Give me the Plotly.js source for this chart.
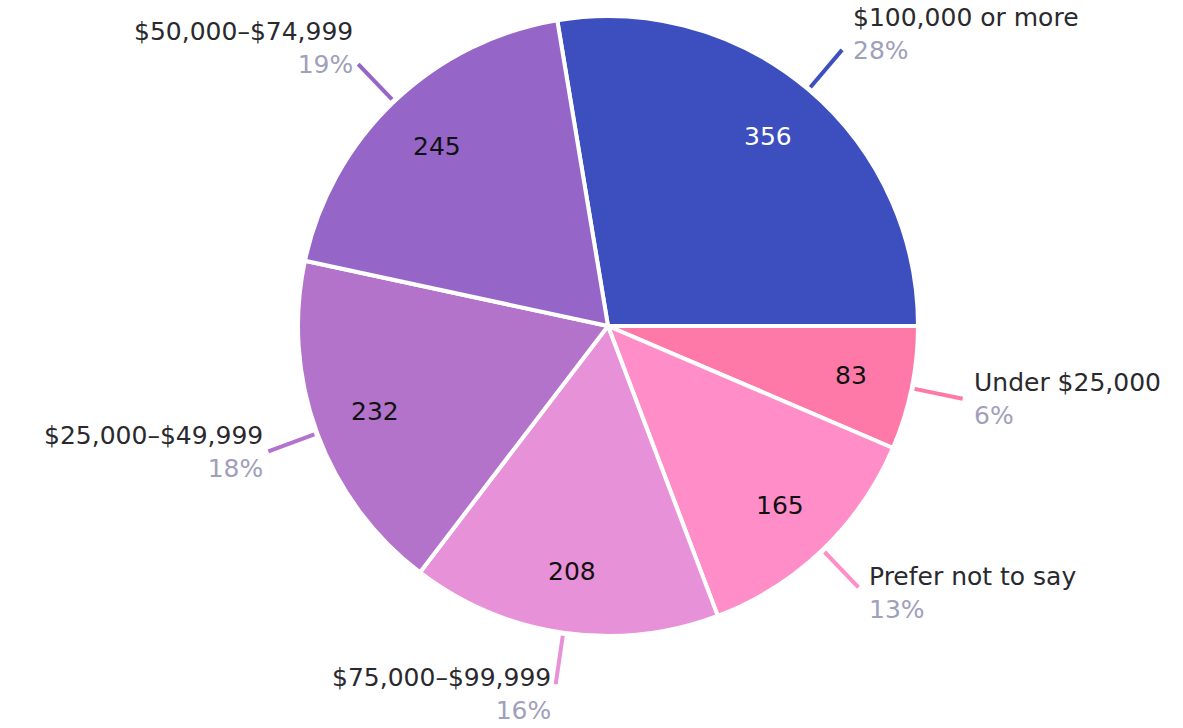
<!DOCTYPE html>
<html><head><meta charset="utf-8">
<script src="https://cdn.plot.ly/plotly-3.0.1.min.js"></script>
<style>html,body{margin:0;padding:0;background:#fff;}#chart{width:1183px;height:728px;}</style>
</head><body><div id="chart"></div>
<script>
const categories = ["$100,000 or more","Under $25,000","Prefer not to say","$75,000–$99,999","$25,000–$49,999","$50,000–$74,999"];
const counts = [356, 83, 165, 208, 232, 245];
const percentLabels = ["28%","6%","13%","16%","18%","19%"];
const colors = ["#3D4FBE","#FF79A8","#FF8DC8","#E792D8","#B373CB","#9566C8"];
const insideTextColors = ["#ffffff","#111111","#111111","#111111","#111111","#111111"];

const W = 1183, H = 728;
const mt = 16, mb = 92;
const cx = 608, R = 310, cy = mt + R;
const plotH = H - mt - mb;
const total = counts.reduce((a,b)=>a+b,0);
const firstDeg = counts[0]/total*360;
const rotation = 90 - firstDeg;
const FONT = '"DejaVu Sans", Verdana, sans-serif';

const toPX = px => px / W;
const toPY = py => 1 - (py - mt) / plotH;

const shapes = [], annotations = [];
let acc = rotation;
counts.forEach((v,i)=>{
  const span = v/total*360;
  const mid = (acc + span/2) * Math.PI/180;
  acc += span;
  const sx = Math.sin(mid), sy = -Math.cos(mid);
  // value inside slice
  const ri = 0.8*R;
  annotations.push({xref:'paper', yref:'paper', x:toPX(cx+sx*ri), y:toPY(cy+sy*ri),
    xanchor:'center', yanchor:'middle', showarrow:false, text:String(v),
    font:{family:FONT, size:25, color:insideTextColors[i]}});
  // leader line
  const r0 = R + 3, r1 = R + 52;
  const x0 = cx + sx*r0, y0 = cy + sy*r0, x1 = cx + sx*r1, y1 = cy + sy*r1;
  shapes.push({type:'line', xref:'paper', yref:'paper', x0:toPX(x0), y0:toPY(y0), x1:toPX(x1), y1:toPY(y1),
    line:{color:colors[i], width:4}});
  const right = sx > 0;
  const upper = sy < -0.6;
  const down = sy > 0 ? -10*sy*sy : 0;
  annotations.push({
    xref:'paper', yref:'paper', x:toPX(x1 + (right?9:-3)), y:toPY(y1),
    xanchor: right?'left':'right', yanchor: upper?'bottom':'middle', yshift: upper?-17:down,
    align: right?'left':'right', showarrow:false,
    text: categories[i] + '<br><span style="color:#9FA0BA">' + percentLabels[i] + '</span>',
    font:{family:FONT, size:25, color:'#2a2a2e'}
  });
});

const trace = {
  type:'pie', labels:categories, values:counts, sort:false, direction:'clockwise', rotation:rotation,
  marker:{colors:colors, line:{color:'#ffffff', width:4}},
  textinfo:'none', hoverinfo:'label+value+percent', showlegend:false,
  domain:{x:[(cx-R)/W,(cx+R)/W], y:[0,1]}
};
const layout = {
  width:W, height:H, margin:{l:0,r:0,t:mt,b:mb}, paper_bgcolor:'#ffffff',
  showlegend:false, shapes:shapes, annotations:annotations
};
Plotly.newPlot('chart',[trace],layout,{displayModeBar:false});
</script></body></html>
